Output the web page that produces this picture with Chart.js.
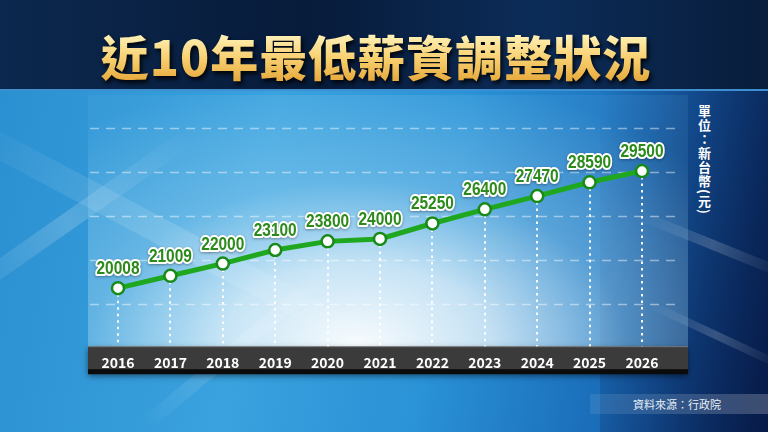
<!DOCTYPE html>
<html><head><meta charset="utf-8">
<script src="https://cdn.jsdelivr.net/npm/chart.js@4/dist/chart.umd.min.js"></script>
<style>
html,body{margin:0;padding:0;width:768px;height:432px;overflow:hidden;}
body{position:relative;background:linear-gradient(100deg,#2a8fd0 0%,#3aa2de 35%,#2a92d6 58%,#1a6cb8 80%,#0d3474 100%);font-family:"Noto Sans CJK TC",sans-serif;}
.streak{position:absolute;background:linear-gradient(90deg,rgba(255,255,255,0),rgba(255,255,255,0.18),rgba(255,255,255,0));transform-origin:0 0;}
#top{position:absolute;left:0;top:0;width:768px;height:89px;background:linear-gradient(90deg,#0c284e 0%,#071b3a 40%,#0c2c58 70%,#081d3c 100%);border-bottom:2px solid #3d8fcf;}
#title{position:absolute;left:0;top:23px;width:752px;text-align:center;font-size:48px;font-weight:900;line-height:64px;letter-spacing:1px;background:linear-gradient(#fff8c8 10%,#f8d070 55%,#e2a030 100%);-webkit-background-clip:text;background-clip:text;color:transparent;filter:drop-shadow(2px 3px 2px rgba(0,0,0,0.85));}
#panel{position:absolute;left:88px;top:95px;width:600px;height:252px;background:radial-gradient(ellipse 75% 110% at 45% 100%,rgba(255,255,255,0.97) 0%,rgba(235,246,252,0.8) 30%,rgba(170,220,245,0.4) 60%,rgba(120,195,240,0.1) 100%);}
#rightdark{position:absolute;left:600px;top:90px;width:168px;height:342px;background:linear-gradient(100deg,rgba(10,40,100,0) 0%,rgba(8,30,80,0.35) 45%,rgba(5,20,60,0.8) 100%);}
#unit{position:absolute;left:696px;top:105px;writing-mode:vertical-rl;font-size:13px;font-weight:700;color:#fff;letter-spacing:1px;line-height:16px;}
#srcband{position:absolute;left:590px;top:394px;width:178px;height:20px;background:linear-gradient(90deg,rgba(255,255,255,0.08),rgba(255,255,255,0.22));}
#src{position:absolute;left:633px;top:396px;font-size:11px;color:#e6eef5;line-height:16px;}
canvas{position:absolute;left:0;top:0;}
</style>
</head><body>
<div class="streak" style="left:-40px;top:110px;width:520px;height:26px;transform:rotate(28deg);"></div>
<div class="streak" style="left:-60px;top:300px;width:300px;height:18px;transform:rotate(-35deg);"></div>
<div class="streak" style="left:140px;top:420px;width:260px;height:14px;transform:rotate(-40deg);"></div>
<div id="rightdark"></div>
<div class="streak" style="left:640px;top:210px;width:160px;height:10px;transform:rotate(22deg);"></div>
<div class="streak" style="left:650px;top:300px;width:150px;height:8px;transform:rotate(25deg);"></div>
<div id="panel"></div>
<div id="top"></div>
<div id="title">近10年最低薪資調整狀況</div>
<div id="unit">單位：新台幣(元)</div>
<div id="srcband"></div>
<div id="src">資料來源：行政院</div>
<canvas id="c" width="768" height="432"></canvas>
<script>
const years = ['2016','2017','2018','2019','2020','2021','2022','2023','2024','2025','2026'];
const wages = [20008,21009,22000,23100,23800,24000,25250,26400,27470,28590,29500];
const gridValues = [18710,22280,25850,29420,32990];

const decor = {
  id:'decor',
  beforeDraw(chart){
    const {ctx, chartArea:a} = chart;
    const L = a.left-30, R = a.right+46, T = a.bottom, H = 27;
    ctx.save();
    ctx.shadowColor='rgba(0,0,0,0.5)'; ctx.shadowBlur=6; ctx.shadowOffsetY=3;
    ctx.fillStyle='#3b3b3b'; ctx.fillRect(L,T,R-L,H);
    ctx.shadowColor='transparent';
    ctx.fillStyle='#0b0b0b'; ctx.fillRect(L,T+H-4,R-L,5);
    ctx.fillStyle='rgba(255,255,255,0.3)'; ctx.fillRect(L,T,R-L,1);
    ctx.restore();
  },
  beforeDatasetsDraw(chart){
    const {ctx, chartArea:a} = chart;
    const y = chart.scales.y;
    ctx.save();
    ctx.setLineDash([9,7]);
    ctx.strokeStyle='rgba(255,255,255,0.45)';
    ctx.lineWidth=1.5;
    gridValues.forEach(v=>{
      const py = Math.round(y.getPixelForValue(v))+0.5;
      if(py < a.bottom-4){
        ctx.beginPath(); ctx.moveTo(a.left-28,py); ctx.lineTo(a.right+38,py); ctx.stroke();
      }
    });
    const meta = chart.getDatasetMeta(0);
    ctx.setLineDash([2.5,4]);
    ctx.strokeStyle='rgba(255,255,255,0.95)';
    ctx.lineWidth=2;
    meta.data.forEach(p=>{
      ctx.beginPath(); ctx.moveTo(Math.round(p.x),p.y+6); ctx.lineTo(Math.round(p.x),a.bottom); ctx.stroke();
    });
    ctx.restore();
  },
  afterDatasetsDraw(chart){
    const {ctx} = chart;
    const meta = chart.getDatasetMeta(0);
    meta.data.forEach((p,i)=>{
      const t = String(wages[i]);
      ctx.save();
      ctx.translate(p.x, p.y - 14);
      ctx.scale(0.86,1);
      ctx.font = 'bold 18px "Liberation Sans", sans-serif';
      ctx.textAlign='center';
      ctx.textBaseline='alphabetic';
      ctx.lineJoin='round';
      ctx.shadowColor='rgba(0,0,0,0.35)'; ctx.shadowBlur=3; ctx.shadowOffsetY=1;
      ctx.strokeStyle='#ffffff'; ctx.lineWidth=4;
      ctx.strokeText(t,0,0);
      ctx.shadowColor='transparent';
      ctx.fillStyle='#2b8a1a';
      ctx.fillText(t,0,0);
      ctx.restore();
    });
  }
};

new Chart(document.getElementById('c'),{
  type:'line',
  data:{labels:years,datasets:[{
    data:wages,
    borderColor:'#1fa81f',
    borderWidth:5,
    pointRadius:6,
    pointBorderWidth:2.5,
    pointBackgroundColor:'#ffffff',
    pointBorderColor:'#178a17',
    tension:0,
    clip:false
  }]},
  options:{
    responsive:false,
    animation:false,
    devicePixelRatio:1,
    layout:{padding:{left:118,right:126,top:120,bottom:61}},
    plugins:{legend:{display:false},tooltip:{enabled:false}},
    scales:{
      x:{type:'category',offset:false,grid:{display:false},border:{display:false},
         ticks:{color:'#ffffff',font:{family:'"Noto Sans CJK TC", sans-serif',size:14,weight:'bold'},padding:0,maxRotation:0,autoSkip:false}},
      y:{display:false,min:15303,max:33638}
    }
  },
  plugins:[decor]
});
</script>
</body></html>
